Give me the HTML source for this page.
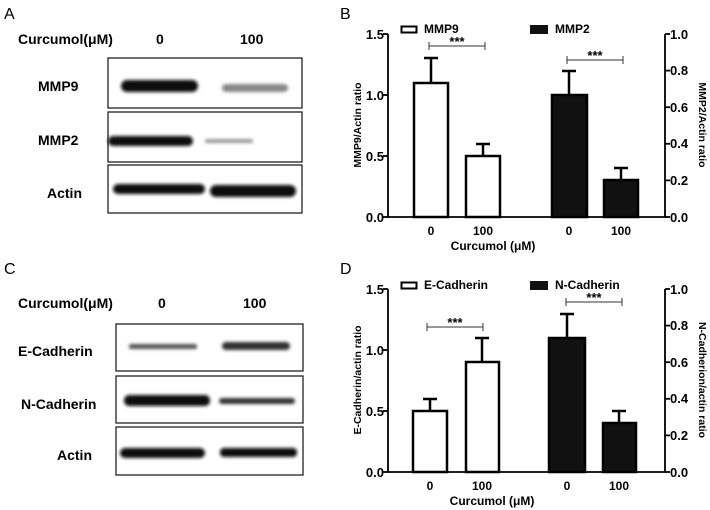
<!DOCTYPE html>
<html><head><meta charset="utf-8"><style>
html,body{margin:0;padding:0;background:#fff;}
svg{display:block;font-family:"Liberation Sans",Arial,sans-serif;font-weight:bold;}
</style></head><body>
<svg width="710" height="510" viewBox="0 0 710 510" xmlns="http://www.w3.org/2000/svg">
<defs>
<filter id="b" x="-20%" y="-100%" width="140%" height="300%"><feGaussianBlur stdDeviation="1.6"/></filter>
</defs>
<rect width="710" height="510" fill="#fff"/>

<!-- Panel A -->
<text x="4" y="19" font-size="16" font-weight="normal">A</text>
<text x="18" y="44" font-size="14">Curcumol(μM)</text>
<text x="156" y="44" font-size="14">0</text>
<text x="240" y="44" font-size="14">100</text>
<text x="38" y="91" font-size="14">MMP9</text>
<text x="38" y="145" font-size="14">MMP2</text>
<text x="47" y="198" font-size="14">Actin</text>
<g fill="none" stroke="#222" stroke-width="1.3">
<rect x="108" y="58" width="194" height="50"/>
<rect x="108" y="112" width="194" height="50"/>
<rect x="108" y="165" width="194" height="48"/>
</g>
<g filter="url(#b)">
<rect x="121" y="80" width="77" height="12" rx="6" fill="#111"/>
<rect x="222" y="84" width="66" height="8" rx="4" fill="#888"/>
<rect x="108" y="136" width="85" height="10" rx="5" fill="#111"/>
<rect x="205" y="139" width="48" height="4" rx="2" fill="#999"/>
<rect x="113" y="184" width="92" height="10" rx="5" fill="#111"/>
<rect x="210" y="185" width="86" height="12" rx="6" fill="#0a0a0a"/>
</g>

<!-- Panel C -->
<text x="4" y="274" font-size="16" font-weight="normal">C</text>
<text x="18" y="308" font-size="14">Curcumol(μM)</text>
<text x="158" y="308" font-size="14">0</text>
<text x="243" y="308" font-size="14">100</text>
<text x="18" y="356" font-size="14">E-Cadherin</text>
<text x="21" y="409" font-size="14">N-Cadherin</text>
<text x="57" y="460" font-size="14">Actin</text>
<g fill="none" stroke="#222" stroke-width="1.3">
<rect x="116" y="324" width="187" height="47"/>
<rect x="116" y="376" width="187" height="47"/>
<rect x="116" y="427" width="187" height="48"/>
</g>
<g filter="url(#b)">
<rect x="129" y="344" width="68" height="5" rx="2" fill="#555"/>
<rect x="222" y="342" width="68" height="8" rx="4" fill="#333"/>
<rect x="124" y="395" width="86" height="11" rx="5" fill="#111"/>
<rect x="219" y="398" width="76" height="6" rx="3" fill="#333"/>
<rect x="120" y="448" width="85" height="10" rx="5" fill="#0a0a0a"/>
<rect x="220" y="448" width="77" height="9" rx="4" fill="#111"/>
</g>

<!-- Panel B -->
<text x="340" y="19" font-size="16" font-weight="normal">B</text>
<g stroke="#000" stroke-width="1.8" fill="none">
<polyline points="388,34 388,217 665,217 665,34"/>
<line x1="383" y1="34" x2="388" y2="34"/><line x1="383" y1="95" x2="388" y2="95"/><line x1="383" y1="156" x2="388" y2="156"/><line x1="383" y1="217" x2="388" y2="217"/>
<line x1="665" y1="34" x2="670" y2="34"/><line x1="665" y1="70.6" x2="670" y2="70.6"/><line x1="665" y1="107.2" x2="670" y2="107.2"/><line x1="665" y1="143.8" x2="670" y2="143.8"/><line x1="665" y1="180.4" x2="670" y2="180.4"/><line x1="665" y1="217" x2="670" y2="217"/>
</g>
<g font-size="13" text-anchor="end"><text x="384" y="39">1.5</text><text x="384" y="100">1.0</text><text x="384" y="161">0.5</text><text x="384" y="222">0.0</text></g>
<g font-size="13"><text x="670" y="39">1.0</text><text x="670" y="75">0.8</text><text x="670" y="112">0.6</text><text x="670" y="148">0.4</text><text x="670" y="185">0.2</text><text x="670" y="222">0.0</text></g>
<text transform="translate(361,125) rotate(-90)" font-size="10.5" text-anchor="middle">MMP9/Actin ratio</text>
<text transform="translate(699,125) rotate(90)" font-size="10.5" text-anchor="middle">MMP2/Actin ratio</text>
<g stroke="#000" stroke-width="2.5">
<line x1="431" y1="83" x2="431" y2="58"/><line x1="424" y1="58" x2="438" y2="58"/>
<line x1="483" y1="156" x2="483" y2="144"/><line x1="476" y1="144" x2="490" y2="144"/>
<line x1="569" y1="95" x2="569" y2="71"/><line x1="562" y1="71" x2="576" y2="71"/>
<line x1="621" y1="180" x2="621" y2="168"/><line x1="614" y1="168" x2="628" y2="168"/>
</g>
<g stroke="#000" stroke-width="2.5">
<rect x="414" y="83" width="34" height="134" fill="#fff"/>
<rect x="466" y="156" width="34" height="61" fill="#fff"/>
<rect x="552" y="95" width="35" height="122" fill="#111"/>
<rect x="604" y="180" width="34" height="37" fill="#111"/>
</g>
<g stroke="#333" stroke-width="1"><line x1="429" y1="46" x2="485" y2="46"/><line x1="429" y1="42" x2="429" y2="50"/><line x1="485" y1="42" x2="485" y2="50"/>
<line x1="567" y1="60" x2="623" y2="60"/><line x1="567" y1="56" x2="567" y2="64"/><line x1="623" y1="56" x2="623" y2="64"/></g>
<g font-size="13" text-anchor="middle"><text x="457" y="46">***</text><text x="595" y="60">***</text></g>
<rect x="401.5" y="26.5" width="15" height="6" fill="#fff" stroke="#000" stroke-width="2"/>
<text x="424" y="33" font-size="12">MMP9</text>
<rect x="530" y="25" width="18" height="9" fill="#111"/>
<text x="555" y="33" font-size="12">MMP2</text>
<g font-size="12" text-anchor="middle"><text x="431" y="235">0</text><text x="483" y="235">100</text><text x="569" y="235">0</text><text x="621" y="235">100</text></g>
<text x="493" y="250" font-size="12" text-anchor="middle">Curcumol (μM)</text>

<!-- Panel D -->
<text x="340" y="274" font-size="16" font-weight="normal">D</text>
<g stroke="#000" stroke-width="1.8" fill="none">
<polyline points="388,289 388,472 665,472 665,289"/>
<line x1="383" y1="289" x2="388" y2="289"/><line x1="383" y1="350" x2="388" y2="350"/><line x1="383" y1="411" x2="388" y2="411"/><line x1="383" y1="472" x2="388" y2="472"/>
<line x1="665" y1="289" x2="670" y2="289"/><line x1="665" y1="325.6" x2="670" y2="325.6"/><line x1="665" y1="362.2" x2="670" y2="362.2"/><line x1="665" y1="398.8" x2="670" y2="398.8"/><line x1="665" y1="435.4" x2="670" y2="435.4"/><line x1="665" y1="472" x2="670" y2="472"/>
</g>
<g font-size="13" text-anchor="end"><text x="384" y="294">1.5</text><text x="384" y="355">1.0</text><text x="384" y="416">0.5</text><text x="384" y="477">0.0</text></g>
<g font-size="13"><text x="670" y="294">1.0</text><text x="670" y="330">0.8</text><text x="670" y="367">0.6</text><text x="670" y="403">0.4</text><text x="670" y="440">0.2</text><text x="670" y="477">0.0</text></g>
<text transform="translate(361,380) rotate(-90)" font-size="10.5" text-anchor="middle">E-Cadherin/actin ratio</text>
<text transform="translate(699,380) rotate(90)" font-size="10.5" text-anchor="middle">N-Cadherion/actin ratio</text>
<g stroke="#000" stroke-width="2.5">
<line x1="430" y1="411" x2="430" y2="399"/><line x1="423" y1="399" x2="437" y2="399"/>
<line x1="482" y1="362" x2="482" y2="338"/><line x1="475" y1="338" x2="489" y2="338"/>
<line x1="567" y1="338" x2="567" y2="314"/><line x1="560" y1="314" x2="574" y2="314"/>
<line x1="619" y1="423" x2="619" y2="411"/><line x1="612" y1="411" x2="626" y2="411"/>
</g>
<g stroke="#000" stroke-width="2.5">
<rect x="413" y="411" width="34" height="61" fill="#fff"/>
<rect x="466" y="362" width="33" height="110" fill="#fff"/>
<rect x="549" y="338" width="36" height="134" fill="#111"/>
<rect x="603" y="423" width="33" height="49" fill="#111"/>
</g>
<g stroke="#333" stroke-width="1"><line x1="427" y1="327" x2="483" y2="327"/><line x1="427" y1="323" x2="427" y2="331"/><line x1="483" y1="323" x2="483" y2="331"/>
<line x1="566" y1="302" x2="622" y2="302"/><line x1="566" y1="298" x2="566" y2="306"/><line x1="622" y1="298" x2="622" y2="306"/></g>
<g font-size="13" text-anchor="middle"><text x="455" y="327">***</text><text x="594" y="302">***</text></g>
<rect x="401.5" y="282.5" width="15" height="6" fill="#fff" stroke="#000" stroke-width="2"/>
<text x="424" y="289" font-size="12">E-Cadherin</text>
<rect x="530" y="281" width="18" height="9" fill="#111"/>
<text x="555" y="289" font-size="12">N-Cadherin</text>
<g font-size="12" text-anchor="middle"><text x="430" y="490">0</text><text x="482" y="490">100</text><text x="567" y="490">0</text><text x="619" y="490">100</text></g>
<text x="492" y="505" font-size="12" text-anchor="middle">Curcumol (μM)</text>
</svg>
</body></html>
